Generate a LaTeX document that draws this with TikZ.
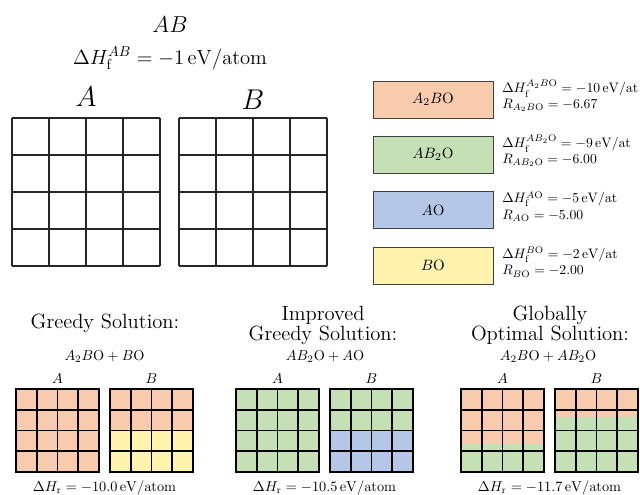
\documentclass[tikz,border=0pt]{standalone}
\definecolor{orangecell}{HTML}{F8CBAD}
\definecolor{greencell}{HTML}{C5E0B4}
\definecolor{bluecell}{HTML}{B4C7E7}
\definecolor{yellowcell}{HTML}{FFF3AD}
\tikzset{
  txt/.style={inner sep=0pt,scale=1.43},
  info/.style={inner sep=0pt,scale=1.37,anchor=base west},
  title/.style={inner sep=0pt,scale=1.43,font=\Large},
  bigtxt/.style={inner sep=0pt,scale=1.65,font=\LARGE},
  phase/.style={draw=black!75,line width=0.8pt,minimum width=80pt,minimum height=24.67pt,inner sep=0pt,scale=1.5},
  biggrid/.style={draw=black!85,line width=1.2pt},
  smallgrid/.style={draw=black,line width=1.6pt},
}
\begin{document}
\begin{tikzpicture}[x=1pt,y=1pt]
      \useasboundingbox (0,0) rectangle (640,495);%

      % compound AB
      \node[inner sep=0pt,scale=1.6,font=\Large] (ABT) at (170,470) {$AB$};%
      \node[title] (ABH) at (170,437) {$\Delta H_\mathrm{f}^{AB} = -1\,\mathrm{eV/atom}$};%

      \node[bigtxt,anchor=base] (PA) at (86,388) {$A$};%
      \node[bigtxt,anchor=base] (PB) at (253,385) {$B$};%
      \draw[biggrid,shift={(12,229)}] (0,0) grid[step=37] (148,148);%
      \draw[biggrid,shift={(179,229)}] (0,0) grid[step=37] (148,148);%

      % oxide phases
      \node[phase,fill=orangecell] (A2BO) at (433,395.5) {$A_2B$O};%
      \node[phase,fill=greencell] (AB2O) at (433,340.5) {$AB_2$O};%
      \node[phase,fill=bluecell] (AO) at (433,285) {$A$O};%
      \node[phase,fill=yellowcell] (BO) at (433,229.5) {$B$O};%

      \node[info] (HA2BO) at (502,402) {$\Delta H_\mathrm{f}^{A_2B\mathrm{O}} = -10\,\mathrm{eV/at}$};%
      \node[info] (RA2BO) at (502,386.5) {$R_{A_2B\mathrm{O}} = -6.67$};%
      \node[info] (HAB2O) at (502,347) {$\Delta H_\mathrm{f}^{AB_2\mathrm{O}} = -9\,\mathrm{eV/at}$};%
      \node[info] (RAB2O) at (502,331.5) {$R_{AB_2\mathrm{O}} = -6.00$};%
      \node[info] (HAO) at (502,292) {$\Delta H_\mathrm{f}^{A\mathrm{O}} = -5\,\mathrm{eV/at}$};%
      \node[info] (RAO) at (502,275.5) {$R_{A\mathrm{O}} = -5.00$};%
      \node[info] (HBO) at (502,236.5) {$\Delta H_\mathrm{f}^{B\mathrm{O}} = -2\,\mathrm{eV/at}$};%
      \node[info] (RBO) at (502,220) {$R_{B\mathrm{O}} = -2.00$};%

      % greedy
      \node[title] (GT) at (105,172) {Greedy Solution:};%
      \node[txt] (GF) at (104.5,138) {$A_2B\mathrm{O} + B\mathrm{O}$};%
      \node[txt] (GA) at (57.5,116) {$A$};%
      \node[txt] (GB) at (151.5,116) {$B$};%
      \fill[orangecell] (16,23) rectangle (99,106);%
      \fill[orangecell] (110,64.5) rectangle (193,106);%
      \fill[yellowcell] (110,23) rectangle (193,64.5);%
      \draw[smallgrid,shift={(16,23)}] (0,0) grid[step=20.75] (83,83) (0,0) rectangle (83,83);%
      \draw[smallgrid,shift={(110,23)}] (0,0) grid[step=20.75] (83,83) (0,0) rectangle (83,83);%
      \node[txt] (GR) at (104.5,7) {$\Delta H_\mathrm{r} = -10.0\,\mathrm{eV/atom}$};%

      % improved greedy
      \node[title] (IT1) at (323,180) {Improved};%
      \node[title] (IT2) at (323,160) {Greedy Solution:};%
      \node[txt] (IF) at (325,138) {$AB_2\mathrm{O} + A\mathrm{O}$};%
      \node[txt] (IA) at (277.5,116) {$A$};%
      \node[txt] (IB) at (371.5,116) {$B$};%
      \fill[greencell] (236,23) rectangle (319,106);%
      \fill[greencell] (330,64.5) rectangle (413,106);%
      \fill[bluecell] (330,23) rectangle (413,64.5);%
      \draw[smallgrid,shift={(236,23)}] (0,0) grid[step=20.75] (83,83) (0,0) rectangle (83,83);%
      \draw[smallgrid,shift={(330,23)}] (0,0) grid[step=20.75] (83,83) (0,0) rectangle (83,83);%
      \node[txt] (IR) at (324.5,7) {$\Delta H_\mathrm{r} = -10.5\,\mathrm{eV/atom}$};%

      % globally optimal
      \node[title] (OT1) at (550,180) {Globally};%
      \node[title] (OT2) at (550,160) {Optimal Solution:};%
      \node[txt] (OF) at (548,138) {$A_2B\mathrm{O} + AB_2\mathrm{O}$};%
      \node[txt] (OA) at (502.5,116) {$A$};%
      \node[txt] (OB) at (596.5,116) {$B$};%
      \fill[orangecell] (461,50.67) rectangle (544,106);%
      \fill[greencell] (461,23) rectangle (544,50.67);%
      \fill[orangecell] (555,78.33) rectangle (638,106);%
      \fill[greencell] (555,23) rectangle (638,78.33);%
      \draw[smallgrid,shift={(461,23)}] (0,0) grid[step=20.75] (83,83) (0,0) rectangle (83,83);%
      \draw[smallgrid,shift={(555,23)}] (0,0) grid[step=20.75] (83,83) (0,0) rectangle (83,83);%
      \node[txt] (OR) at (549.5,7) {$\Delta H_\mathrm{r} = -11.7\,\mathrm{eV/atom}$};%
\end{tikzpicture}
\end{document}
